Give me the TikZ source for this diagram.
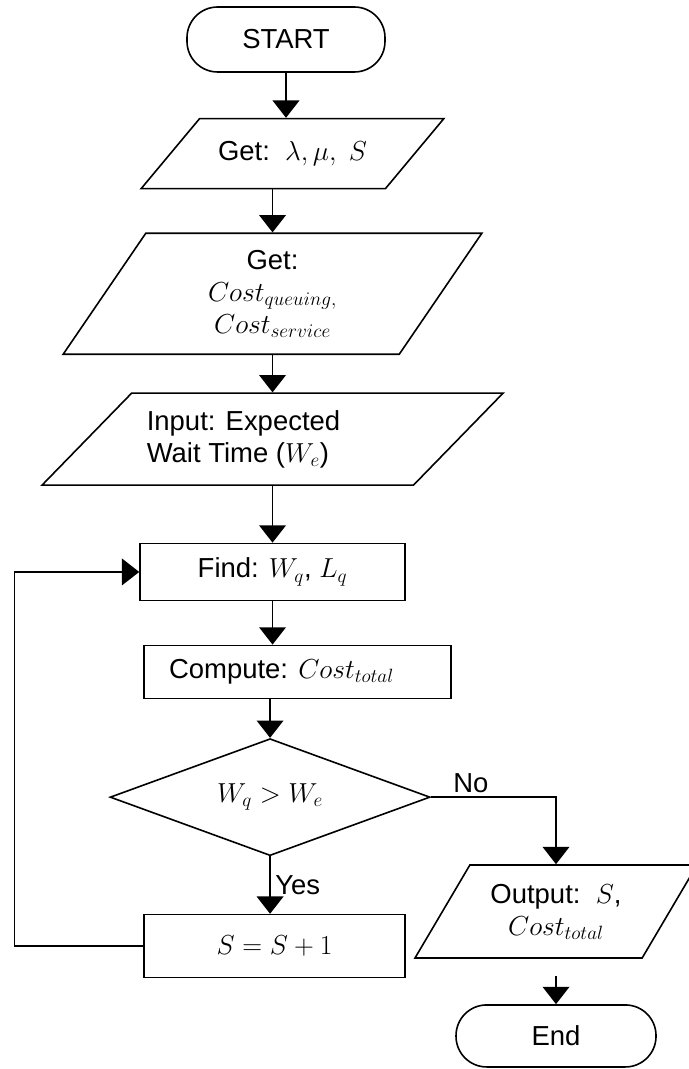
\RequirePackage{fix-cm}
\documentclass[tikz,border=0pt]{standalone}
\usepackage{amsmath}
\usepackage{fontspec}
\setmainfont{Liberation Sans}
\usetikzlibrary{shapes.geometric, arrows.meta, positioning}

\begin{document}
\begin{tikzpicture}[
        x=0.75pt, y=-0.75pt,
        line width=1.2pt,
        every node/.style={font=\fontsize{20.6pt}{24pt}\selectfont},
        term/.style={rectangle, rounded corners=23pt, draw,
            minimum width=148.5pt, minimum height=48.75pt, text centered},
        block/.style={rectangle, draw, minimum height=42.75pt, text centered},
        data/.style={trapezium, trapezium stretches body, draw,
            inner xsep=2pt, align=center},
        decide/.style={diamond, draw, inner sep=0pt, aspect=2.7,
            minimum width=240pt, minimum height=87.75pt},
        arr/.style={-{Triangle[length=13pt, width=20pt]}}
    ]
    \useasboundingbox (0,0) rectangle (688,1069);
    \node (start) [term] at (286,39.5) {START};
    \node (get1)  [data, trapezium left angle=49, trapezium right angle=131,
                   minimum width=227pt, minimum height=52.5pt, inner ysep=16pt,
                   below=33.75pt of start, xshift=4.9pt]
                   {Get:\ \ $\lambda,\mu,\ S$};
    \node (get2)  [data, trapezium left angle=55, trapezium right angle=125,
                   minimum width=314pt, minimum height=90.75pt, inner ysep=11.5pt,
                   below=32.25pt of get1, xshift=-15pt]
                   {Get:\\ $Cost_{queuing,}$\\ $Cost_{service}$};
    \node (input) [data, trapezium left angle=45, trapezium right angle=135,
                   minimum width=345.75pt, minimum height=69pt, inner ysep=12pt,
                   align=left, below=28pt of get2]
                   {Input: Expected\hspace*{43.5pt}\\ Wait Time ($W_e$)};
    \node (find)  [block, minimum width=198.75pt, below=42.5pt of input]
                   {Find: $W_q$, $L_q$};
    \node (comp)  [block, minimum width=230.25pt, minimum height=39.75pt,
                   below=32.5pt of find, xshift=18.75pt]
                   {Compute: $Cost_{total}$\hspace*{24pt}};
    \node (test)  [decide, below=29pt of comp, xshift=-20.6pt] {$W_q > W_e$};
    \node (incr)  [block, minimum width=195.75pt, minimum height=47.25pt,
                   below=43pt of test, xshift=3.4pt] {$S = S + 1$};
    \node (out)   [data, trapezium left angle=59, trapezium right angle=121,
                   minimum width=211.5pt, minimum height=69.75pt, inner ysep=13.5pt]
                   at (556,911.5) {Output:\ \ $S$,\\ $Cost_{total}$};
    \node (end)   [term, minimum width=150pt, minimum height=46.5pt,
                   below=34pt of out] {End};
    \draw [arr] (start.south) -- (start.south |- get1.north);
    \draw [arr] (get2.north |- get1.south) -- (get2.north);
    \draw [arr] (get2.south) -- (input.north);
    \draw [arr] (input.south -| find.north) -- (find.north);
    \draw [arr] (find.south) -- (find.south |- comp.north);
    \draw [arr] (test.north |- comp.south) -- (test.north);
    \draw [arr] (test.south) -- node[right, pos=0.5]{Yes}
        (test.south |- incr.north);
    \draw [arr] (test.east) -| node[pos=0.16, above, inner sep=3pt]{No}
        (out.center |- out.north);
    \draw [arr] (incr.west) -- ++(-129,0) |- (find.west);
    \draw [arr, shorten <=12.75pt] (out.south) -- (end.north);
\end{tikzpicture}
\end{document}
